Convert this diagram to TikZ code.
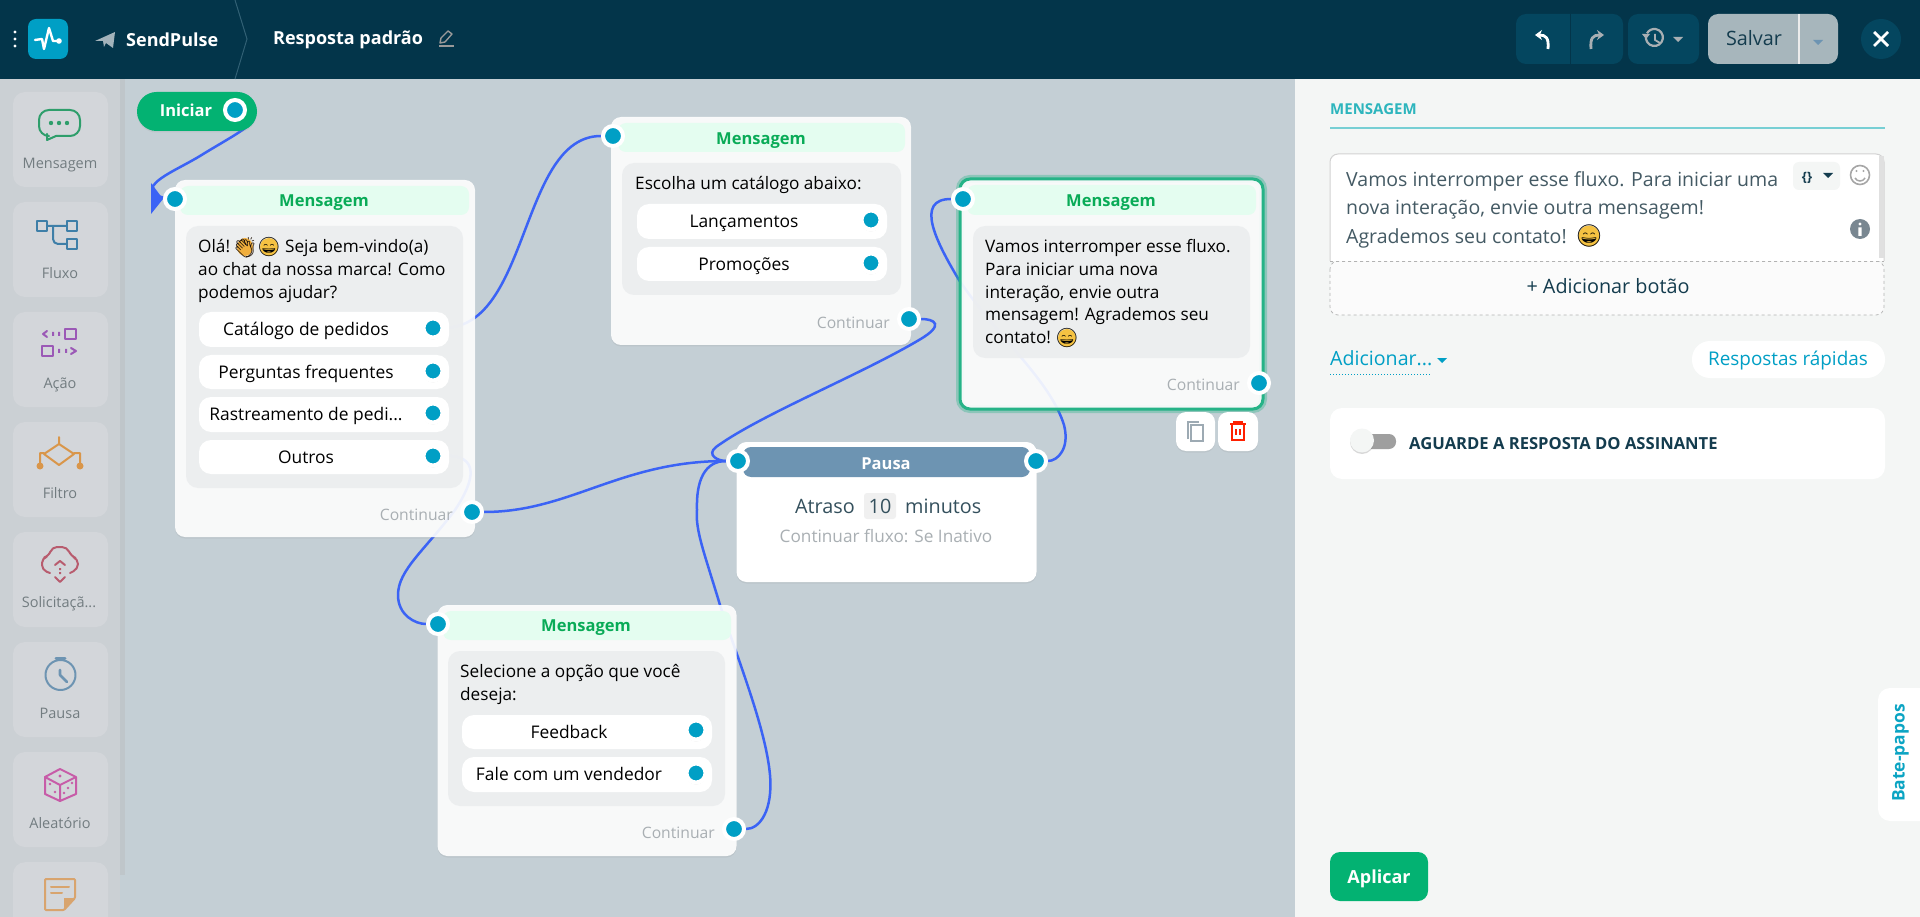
\documentclass[tikz,border=0pt]{standalone}
\usepackage{fontspec}
\usepackage{amsmath}
\setmainfont{Open Sans}
\newfontfamily\emojifont{Noto Emoji}
\usetikzlibrary{arrows.meta,shadows,shapes.geometric}

\definecolor{headbar}{HTML}{03354A}
\definecolor{headbtn}{HTML}{04465F}
\definecolor{canvasbg}{HTML}{C4CFD5}
\definecolor{sidebg}{HTML}{CBD0D4}
\definecolor{sidebarstrip}{HTML}{BFC6CA}
\definecolor{sidetile}{HTML}{D3D6DA}
\definecolor{sidetxt}{HTML}{727C80}
\definecolor{panelbg}{HTML}{F4F6F5}
\definecolor{linkblue}{HTML}{3B63F5}
\definecolor{portblue}{HTML}{009FC5}
\definecolor{startgreen}{HTML}{03B272}
\definecolor{headgreen}{HTML}{09AB57}
\definecolor{headmint}{HTML}{E4FDF0}
\definecolor{innergray}{HTML}{EBEDEF}
\definecolor{selgreen}{HTML}{26B387}
\definecolor{pausebar}{HTML}{6D94B2}
\definecolor{softgray}{HTML}{A9AFB3}
\definecolor{darktxt}{HTML}{143C4E}
\definecolor{teal}{HTML}{2DB5BD}
\definecolor{grinyellow}{HTML}{F5C242}
\definecolor{clapyellow}{HTML}{F0AE3C}
\definecolor{savebg}{HTML}{A7B6BC}
\definecolor{planegray}{HTML}{A3B3BB}
\definecolor{icongreen}{HTML}{2E9E6B}
\definecolor{iconflow}{HTML}{3E7FA8}
\definecolor{iconact}{HTML}{9B59B6}
\definecolor{iconfilter}{HTML}{D9964A}
\definecolor{iconcloud}{HTML}{B85C6E}
\definecolor{icondice}{HTML}{C75CA8}
\definecolor{iconnote}{HTML}{D8A46E}

\newcommand{\glyphmid}[1]{\smash{\makebox[0pt]{\raisebox{-0.36em}{#1}}}}

\pgfdeclarelayer{base}
\pgfdeclarelayer{links}
\pgfsetlayers{base,links,main}

\tikzset{
    link/.style={draw=linkblue,line width=2.5pt},
    card/.style={rectangle,rounded corners=10pt,fill=white,fill opacity=0.9,inner sep=0pt,
        drop shadow={opacity=0.12,shadow xshift=0pt,shadow yshift=-1.5pt}},
    inner/.style={rectangle,rounded corners=12pt,fill=innergray,fill opacity=0.9,inner sep=0pt},
    choice/.style={rectangle,rounded corners=12pt,fill=white,inner sep=0pt},
    mint/.style={rectangle,rounded corners=8pt,fill=headmint,inner sep=0pt},
    port/.style={circle,fill=portblue,draw=white,line width=4pt,minimum size=20pt,inner sep=0pt},
    tile/.style={rectangle,rounded corners=12pt,fill=sidetile,inner sep=0pt,minimum width=95pt,minimum height=95pt},
    txt/.style={inner sep=0pt,text height=16pt,text depth=3pt},
    sidelabel/.style={txt,text=sidetxt,font=\fontsize{14.5}{17}\selectfont},
    cardtitle/.style={txt,text=headgreen,font=\fontsize{16.5}{20}\selectfont\bfseries},
    choicetxt/.style={txt,text=black,font=\fontsize{17.4}{20}\selectfont},
    body/.style={inner sep=0pt,text=black,align=left,anchor=north west,font=\fontsize{17.2}{22.7}\selectfont},
    nexttxt/.style={txt,text=softgray,font=\fontsize{15.7}{20}\selectfont},
    grin/.style={circle,fill=grinyellow,inner sep=0pt,minimum size=18pt,text=black,font=\emojifont\fontsize{19}{19}\selectfont},
    icon/.style={line width=2pt,line cap=round,line join=round},
}

\begin{document}
\begin{tikzpicture}[x=1pt,y=-1pt]
    \useasboundingbox (0,0) rectangle (1920,917);

    % Draw the backgrounds
    \begin{pgfonlayer}{base}
    \fill [canvasbg] (0,0) rectangle (1295,917);
    \fill [sidebg] (0,79) rectangle (120,917);
    \fill [sidebarstrip] (120,79) rectangle (125,875);
    \fill [panelbg] (1295,79) rectangle (1920,917);
    \fill [headbar] (0,0) rectangle (1920,79);
    \end{pgfonlayer}

    % Draw the top bar
    \fill [white] (15,32) circle (1.7) (15,39) circle (1.7) (15,46) circle (1.7);
    \fill [portblue,rounded corners=8pt] (28,19) rectangle (68,59);
    \draw [white,icon,line width=2.4pt] (35,40) -- (42,39) -- (44,49) -- (49,28) -- (53,41) -- (59,41);
    \fill [white] (59,41) circle (2.8);
    \fill [planegray] (95,41) -- (115,32) -- (113,48) -- (106,43) -- (104,47) -- (103,41) -- cycle;
    \node (brand) [txt,text=white,font=\fontsize{18}{20}\selectfont\bfseries,anchor=west] at (126,40) {SendPulse};
    \draw [headbtn!70!white!60!headbar,line width=1pt] (235,0) -- (247,39) -- (235,79);
    \node (flowname) [txt,text=white,font=\fontsize{18}{20}\selectfont\bfseries,anchor=west] at (273,38) {Resposta padrão};
    \draw [gray!80!white,line width=1.5pt] (439,46) -- (454,46);
    \draw [gray!80!white,line width=1.4pt,line join=round] (440,43) -- (441,38) -- (448,31) -- (452,34) -- (445,42) -- cycle;

    \node (undobar) [rectangle,rounded corners=10pt,fill=headbtn,minimum width=107pt,minimum height=50pt,inner sep=0pt] at (1569.5,39) {};
    \draw [headbar,line width=1pt] (1570,14) -- (1570,64);
    \draw [white,line width=2.8pt,-{Stealth[length=7pt,width=10pt]}] (1548,49) .. controls (1549,38) and (1546,35) .. (1535,35);
    \draw [softgray,line width=2.8pt,-{Stealth[length=7pt,width=10pt]}] (1591,49) .. controls (1590,38) and (1593,35) .. (1604,35);
    \node (histbtn) [rectangle,rounded corners=10pt,fill=headbtn,minimum width=71pt,minimum height=50pt,inner sep=0pt] at (1663.5,39) {};
    \draw [softgray,line width=2.2pt] (1646,36) arc (190:-150:8.5);
    \draw [softgray,line width=1.8pt] (1655,34) -- (1655,40) -- (1660,43);
    \fill [softgray] (1642,34) -- (1650,34) -- (1646,39) -- cycle;
    \fill [softgray] (1673,37) -- (1683,37) -- (1678,42) -- cycle;
    \node (savebtn) [rectangle,rounded corners=10pt,fill=savebg,minimum width=130pt,minimum height=50pt,inner sep=0pt] at (1773,39) {};
    \node (savetxt) [txt,text=darktxt,font=\fontsize{19.8}{20}\selectfont] at (1754,39) {Salvar};
    \draw [white!85!gray,line width=2pt] (1799,14) -- (1799,64);
    \fill [pausebar] (1813,40) -- (1823,40) -- (1818,45) -- cycle;
    \node (closebtn) [circle,fill=headbtn,minimum size=40pt,inner sep=0pt] at (1881,39) {};
    \draw [white,line width=2.8pt] (1874,32) -- (1888,46) (1888,32) -- (1874,46);

    % Draw the side tiles
    \node (tile1) [tile] at (60.5,139.5) {};
    \node (tile2) [tile] at (60.5,249.5) {};
    \node (tile3) [tile] at (60.5,359.5) {};
    \node (tile4) [tile] at (60.5,469.5) {};
    \node (tile5) [tile] at (60.5,579.5) {};
    \node (tile6) [tile] at (60.5,689.5) {};
    \node (tile7) [tile] at (60.5,799.5) {};
    \begin{scope}
    \clip (0,79) rectangle (125,917);
    \node (tile8) [tile,anchor=north] at (60.5,862) {};
    \end{scope}
    \node (lab1) [sidelabel] at (60,162) {Mensagem};
    \node (lab2) [sidelabel] at (60,272) {Fluxo};
    \node (lab3) [sidelabel] at (60,382) {Ação};
    \node (lab4) [sidelabel] at (60,492) {Filtro};
    \node (lab5) [sidelabel] at (59,601) {Solicitaçã...};
    \node (lab6) [sidelabel] at (60,712) {Pausa};
    \node (lab7) [sidelabel] at (60,822) {Aleatório};

    % Draw the side icons
    \draw [icon,draw=icongreen,rounded corners=10pt] (56,136) -- (80,136) -- (80,110) -- (39,110) -- (39,136) -- (47,136);
    \draw [icon,draw=icongreen] (47,134) -- (47,140) -- (56,136);
    \fill [icongreen] (51,123) circle (2.2) (59,123) circle (2.2) (67,123) circle (2.2);
    \draw [icon,draw=iconflow] (37,221) rectangle (47,231) (67,221) rectangle (77,231) (67,239) rectangle (77,249);
    \draw [icon,draw=iconflow,rounded corners=5pt] (47,226) -- (67,226) (53,226) -- (53,244) -- (67,244);
    \draw [icon,draw=iconact] (65,329) rectangle (76,339) (42,346) rectangle (53,356);
    \draw [icon,draw=iconact] (47,331) -- (43,334) -- (47,337) (71,348) -- (76,351) -- (71,354);
    \fill [iconact] (52,332) rectangle (54,336) (58,332) rectangle (60,336) (58,349) rectangle (60,353) (65,349) rectangle (67,353);
    \draw [icon,draw=iconfilter] (59,437) -- (59,444) -- (74,454) -- (59,465) -- (44,454) -- (59,444) (44,453) -- (40,453) -- (40,463) (74,453) -- (80,453) -- (80,463);
    \fill [iconfilter] (40,466) circle (3.5) (80,466) circle (3.5);
    \draw [icon,draw=iconcloud,rounded corners=5pt] (50,573) -- (42,570) -- (42,558) -- (49,556) -- (52,547) -- (67,547) -- (71,556) -- (78,559) -- (78,569) -- (70,573);
    \draw [icon,draw=iconcloud] (55,565) -- (60,561) -- (65,565) (55,577) -- (60,582) -- (65,577);
    \fill [iconcloud] (59,568) rectangle (61,570) (59,572) rectangle (61,574);
    \draw [icon,draw=pausebar] (60.5,675) circle (15);
    \draw [icon,draw=pausebar,line width=3pt] (56,658) -- (65,658);
    \draw [icon,draw=pausebar,line width=2.6pt] (60,670) -- (60,675) -- (67,682);
    \draw [icon,draw=icondice] (60,769) -- (76,777) -- (76,794) -- (60,801) -- (45,794) -- (45,777) -- cycle (45,777) -- (60,785) -- (76,777) (60,785) -- (60,801);
    \fill [icondice] (60,776) circle (1.6) (50,784) circle (1.3) (55,792) circle (1.3) (72,783) circle (1.3) (68,788) circle (1.3) (64,793) circle (1.3);
    \draw [icon,draw=iconnote,rounded corners=1pt] (45,879) -- (75,879) -- (75,898) -- (64,910) -- (45,910) -- cycle;
    \fill [iconnote] (64,910) -- (75,898) -- (64,898) -- cycle;
    \draw [icon,draw=iconnote] (51,887) -- (69,887) (51,893) -- (62,893);

    % Draw the start node
    \node (start) [rectangle,rounded corners=19.5pt,fill=startgreen,minimum width=120pt,minimum height=39pt,inner sep=0pt,
        drop shadow={opacity=0.12,shadow xshift=0pt,shadow yshift=-1.5pt}] at (197,111.5) {};
    \node (starttxt) [txt,text=white,font=\fontsize{16.5}{20}\selectfont\bfseries] at (186,110) {Iniciar};
    \node (startport) [port] at (235,110) {};

    % First message
    \node (msga) [card,minimum width=300pt,minimum height=357pt] at (325,358.5) {};
    \node (msgahead) [mint,minimum width=289pt,minimum height=29pt] at (324.5,200.5) {};
    \node (msgatitle) [cardtitle] at (324,200) {Mensagem};
    \node (msgabox) [inner,minimum width=277pt,minimum height=262pt] at (324.5,357) {};
    \node (msgatxt) [body] at (198,239.5) {Olá!\hspace*{55pt}Seja bem-vindo(a)\\ao chat da nossa marca! Como\\podemos ajudar?};
    \node (clapbg) [ellipse,fill=clapyellow,inner sep=0pt,minimum width=16pt,minimum height=18pt] at (245,247) {};
    \node (clap) [text=black!80!brown,font=\emojifont\fontsize{20}{20}\selectfont,inner sep=0pt] at (245,247) {\glyphmid{👏}};
    \node (grina) [grin] at (269,247) {\glyphmid{😄}};
    \node (btna) [choice,minimum width=250pt,minimum height=35pt] at (324,329.5) {};
    \node (btnb) [choice,minimum width=250pt,minimum height=34pt] at (324,372) {};
    \node (btnc) [choice,minimum width=250pt,minimum height=35pt] at (324,414.5) {};
    \node (btnd) [choice,minimum width=250pt,minimum height=34pt] at (324,457) {};
    \node (btnatxt) [choicetxt] at (306,329) {Catálogo de pedidos};
    \node (btnbtxt) [choicetxt] at (306,372) {Perguntas frequentes};
    \node (btnctxt) [choicetxt] at (306,414) {Rastreamento de pedi...};
    \node (btndtxt) [choicetxt] at (306,457) {Outros};
    \node (porta) [port,minimum size=19pt,drop shadow={opacity=0.2,shadow xshift=0pt,shadow yshift=-2pt}] at (433,328) {};
    \node (portb) [port,minimum size=19pt,drop shadow={opacity=0.2,shadow xshift=0pt,shadow yshift=-2pt}] at (433,371) {};
    \node (portc) [port,minimum size=19pt,drop shadow={opacity=0.2,shadow xshift=0pt,shadow yshift=-2pt}] at (433,413) {};
    \node (portd) [port,minimum size=19pt,drop shadow={opacity=0.2,shadow xshift=0pt,shadow yshift=-2pt}] at (433,456) {};
    \node (msgain) [port] at (175,199) {};
    \node (msgaout) [port] at (472,512) {};
    \node (msganext) [nexttxt,anchor=east] at (453,514) {Continuar};
    \fill [linkblue] ([xshift=-24pt,yshift=16pt]msgain.center) -- ([xshift=-24pt,yshift=-15pt]msgain.center) -- ([xshift=-12pt]msgain.center) -- cycle;

    % Second message
    \node (msgb) [card,minimum width=300pt,minimum height=228pt] at (761,231) {};
    \node (msgbhead) [mint,minimum width=287pt,minimum height=29pt] at (761.5,137.5) {};
    \node (msgbtitle) [cardtitle] at (761,138) {Mensagem};
    \node (msgbbox) [inner,minimum width=279pt,minimum height=132pt] at (761.5,229) {};
    \node (msgbtxt) [body] at (635,176.5) {Escolha um catálogo abaixo:};
    \node (btne) [choice,minimum width=250pt,minimum height=35pt] at (762,221.5) {};
    \node (btnf) [choice,minimum width=250pt,minimum height=34pt] at (762,264) {};
    \node (btnetxt) [choicetxt] at (744,221) {Lançamentos};
    \node (btnftxt) [choicetxt] at (744,264) {Promoções};
    \node (porte) [port,minimum size=19pt,drop shadow={opacity=0.2,shadow xshift=0pt,shadow yshift=-2pt}] at (871,220) {};
    \node (portf) [port,minimum size=19pt,drop shadow={opacity=0.2,shadow xshift=0pt,shadow yshift=-2pt}] at (871,263) {};
    \node (msgbin) [port] at (613,136) {};
    \node (msgbout) [port] at (909,319) {};
    \node (msgbnext) [nexttxt,anchor=east] at (890,322) {Continuar};

    % Selected message
    \node (msgc) [card,draw=selgreen,line width=3pt,minimum width=303pt,minimum height=230pt,
        preaction={draw=selgreen,draw opacity=0.35,line width=8pt}] at (1111.5,294) {};
    \node (msgchead) [mint,minimum width=289pt,minimum height=30pt] at (1111.5,200) {};
    \node (msgctitle) [cardtitle] at (1111,200) {Mensagem};
    \node (msgcbox) [inner,minimum width=277pt,minimum height=132pt] at (1111.5,292) {};
    \node (msgctxt) [body] at (985,239.5) {Vamos interromper esse fluxo.\\Para iniciar uma nova\\interação, envie outra\\mensagem! Agrademos seu\\contato!};
    \node (grinc) [grin] at (1067,338) {\glyphmid{😄}};
    \node (msgcin) [port] at (963,199) {};
    \node (msgcout) [port] at (1259,383) {};
    \node (msgcnext) [nexttxt,anchor=east] at (1240,384) {Continuar};
    \node (copybtn) [choice,rounded corners=10pt,minimum width=39pt,minimum height=39pt,
        drop shadow={opacity=0.12,shadow xshift=0pt,shadow yshift=-1.5pt}] at (1195.5,431.5) {};
    \node (delbtn) [choice,rounded corners=10pt,minimum width=40pt,minimum height=39pt,
        drop shadow={opacity=0.12,shadow xshift=0pt,shadow yshift=-1.5pt}] at (1238,431.5) {};
    \draw [softgray!80!pausebar,line width=1.8pt] (1188,439) -- (1188,422) -- (1199,422) (1191,425) rectangle (1203,441);
    \draw [red!75!orange,line width=2pt] (1230,424) -- (1246,424) (1234,424) -- (1234,422) -- (1242,422) -- (1242,424) (1232,424) -- (1232,440) -- (1244,440) -- (1244,424) (1236,429) -- (1236,435) (1240,429) -- (1240,435);

    % Pause block
    \node (pause) [card,fill opacity=1,minimum width=300pt,minimum height=140pt] at (886.5,512) {};
    \node (pausehead) [rectangle,rounded corners=8pt,fill=pausebar,minimum width=287pt,minimum height=30pt,inner sep=0pt] at (886.5,462) {};
    \node (pausetitle) [txt,text=white,font=\fontsize{16.5}{20}\selectfont\bfseries] at (886,463) {Pausa};
    \node (pausein) [port] at (738,461) {};
    \node (pauseout) [port] at (1036,461) {};
    \node (delaya) [txt,text=darktxt!70!gray,font=\fontsize{19.8}{20}\selectfont,anchor=east] at (855,507) {Atraso};
    \node (delayb) [rectangle,rounded corners=3pt,fill=black!6,minimum width=32pt,minimum height=26pt,inner sep=0pt] at (880,506) {};
    \node (delaynum) [txt,text=darktxt!70!gray,font=\fontsize{19.8}{20}\selectfont] at (880,507) {10};
    \node (delayc) [txt,text=darktxt!70!gray,font=\fontsize{19.8}{20}\selectfont,anchor=west] at (905,507) {minutos};
    \node (delayd) [nexttxt,font=\fontsize{17.2}{20}\selectfont] at (886,536) {Continuar fluxo: Se Inativo};

    % Fourth message
    \node (msgd) [card,minimum width=299pt,minimum height=251pt] at (587,730.5) {};
    \node (msgdhead) [mint,minimum width=288pt,minimum height=29pt] at (587,625.5) {};
    \node (msgdtitle) [cardtitle] at (586,625) {Mensagem};
    \node (msgdbox) [inner,minimum width=277pt,minimum height=155pt] at (586.5,728.5) {};
    \node (msgdtxt) [body] at (460,664.5) {Selecione a opção que você\\deseja:};
    \node (btng) [choice,minimum width=250pt,minimum height=34pt] at (587,732) {};
    \node (btnh) [choice,minimum width=250pt,minimum height=35pt] at (587,774.5) {};
    \node (btngtxt) [choicetxt] at (569,732) {Feedback};
    \node (btnhtxt) [choicetxt] at (569,774) {Fale com um vendedor};
    \node (portg) [port,minimum size=19pt,drop shadow={opacity=0.2,shadow xshift=0pt,shadow yshift=-2pt}] at (696,730) {};
    \node (porth) [port,minimum size=19pt,drop shadow={opacity=0.2,shadow xshift=0pt,shadow yshift=-2pt}] at (696,773) {};
    \node (msgdin) [port] at (438,624) {};
    \node (msgdout) [port] at (734,829) {};
    \node (msgdnext) [nexttxt,anchor=east] at (715,832) {Continuar};

    % Draw the links
    \begin{pgfonlayer}{links}
    \draw [link] (startport) .. controls (270,118) and (232,136) .. (200,156) .. controls (180,168) and (160,176) .. (153,186) .. controls (151,192) and (158,197) .. (msgain);
    \draw [link] (porta) .. controls (530,327) and (520,136) .. (msgbin);
    \draw [link] (portd) .. controls (480,455) and (475,480) .. (455,510) .. controls (425,550) and (398,570) .. (398,595) .. controls (398,615) and (415,624) .. (msgdin);
    \draw [link] (msgaout) .. controls (570,512) and (620,461) .. (pausein);
    \draw [link] (msgbout) .. controls (935,319) and (945,325) .. (919,340) .. controls (860,375) and (760,415) .. (716,447) .. controls (706,455) and (718,461) .. (pausein);
    \draw [link] (pauseout) .. controls (1058,461) and (1070,448) .. (1064,425) .. controls (1050,380) and (1000,340) .. (959,280) .. controls (935,240) and (915,199) .. (msgcin);
    \draw [link] (msgdout) .. controls (760,829) and (773,810) .. (770,775) .. controls (766,730) and (740,665) .. (720,605) .. controls (705,555) and (695,530) .. (697,510) .. controls (696,480) and (705,461) .. (pausein);
    \end{pgfonlayer}

    % Draw the right panel
    \node (paneltitle) [txt,text=teal,font=\fontsize{15}{20}\selectfont\bfseries,anchor=west] at (1330,108) {MENSAGEM};
    \draw [teal!65!white,line width=2pt] (1330,128) -- (1885,128);
    \draw [fill=white!60!panelbg,draw=gray!60,dashed,line width=0.7pt,rounded corners=8pt] (1330,261) -- (1330,315) -- (1884,315) -- (1884,261) -- cycle;
    \draw [fill=white,draw=gray!35,line width=1pt,rounded corners=8pt] (1330,261) -- (1330,154) -- (1884,154) -- (1884,261);
    \draw [draw=gray!60,dashed,line width=0.7pt] (1330,261) -- (1884,261);
    \fill [black!12] (1879,156) rectangle (1884,258);
    \node (msgedit) [body,text=darktxt!55!gray,font=\fontsize{19.5}{28.7}\selectfont] at (1346,171) {Vamos interromper esse fluxo. Para iniciar uma\\nova interação, envie outra mensagem!\\Agrademos seu contato!};
    \node (grine) [grin,minimum size=21pt,font=\emojifont\fontsize{22}{22}\selectfont] at (1589,236) {\glyphmid{😄}};
    \node (varbtn) [rectangle,rounded corners=6pt,fill=panelbg,minimum width=47pt,minimum height=28pt,inner sep=0pt] at (1816.5,176) {};
    \node (vartxt) [txt,text=darktxt,font=\fontsize{13}{15}\selectfont\bfseries] at (1807,175) {\{\}};
    \fill [darktxt] (1823,173) -- (1833,173) -- (1828,178) -- cycle;
    \draw [gray!70,line width=1.6pt] (1860,175) circle (9.5);
    \fill [gray!70] (1856.5,171) circle (1.2) (1863.5,171) circle (1.2);
    \draw [gray!70,line width=1.5pt] (1855,178) .. controls (1857,182) and (1863,182) .. (1865,178);
    \fill [pausebar!35!gray] (1860,229) circle (10);
    \fill [white] (1860,224) circle (1.7) (1858.3,227.5) rectangle (1861.7,236);
    \node (addbtn) [txt,text=darktxt,font=\fontsize{19.8}{20}\selectfont] at (1608,287) {+ Adicionar botão};

    \node (addmenu) [txt,text=portblue,font=\fontsize{19.6}{20}\selectfont,anchor=west] at (1330,359) {Adicionar...};
    \draw [portblue,line width=1pt,dotted] (1330,374) -- (1431,374);
    \fill [portblue] (1437,358) -- (1447,358) -- (1442,363) -- cycle;
    \node (quickbtn) [rectangle,rounded corners=18pt,fill=white,minimum width=193pt,minimum height=37pt,inner sep=0pt] at (1788.5,359.5) {};
    \node (quicktxt) [txt,text=portblue,font=\fontsize{18.9}{20}\selectfont] at (1788,359) {Respostas rápidas};
    \node (waitbox) [rectangle,rounded corners=12pt,fill=white,minimum width=555pt,minimum height=71pt,inner sep=0pt] at (1607.5,443.5) {};
    \fill [gray!75,rounded corners=7pt] (1362,434) rectangle (1396,449);
    \node (knob) [circle,fill=panelbg,minimum size=24pt,inner sep=0pt,
        drop shadow={opacity=0.3,shadow xshift=0pt,shadow yshift=-1.5pt}] at (1362,440.5) {};
    \node (waittxt) [txt,text=darktxt,font=\fontsize{16.6}{18}\selectfont\bfseries,anchor=west] at (1409,443) {AGUARDE A RESPOSTA DO ASSINANTE};
    \node (chattab) [rectangle,rounded corners=12pt,fill=white,minimum width=60pt,minimum height=133pt,inner sep=0pt] at (1908,754.5) {};
    \node (chattxt) [txt,text=portblue!75!teal,rotate=90,font=\fontsize{17.4}{18}\selectfont\bfseries] at (1898,753) {Bate-papos};
    \node (applybtn) [rectangle,rounded corners=10pt,fill=startgreen,minimum width=98pt,minimum height=49pt,inner sep=0pt] at (1379,876.5) {};
    \node (applytxt) [txt,text=white,font=\fontsize{18}{20}\selectfont\bfseries] at (1379,877) {Aplicar};
\end{tikzpicture}
\end{document}
